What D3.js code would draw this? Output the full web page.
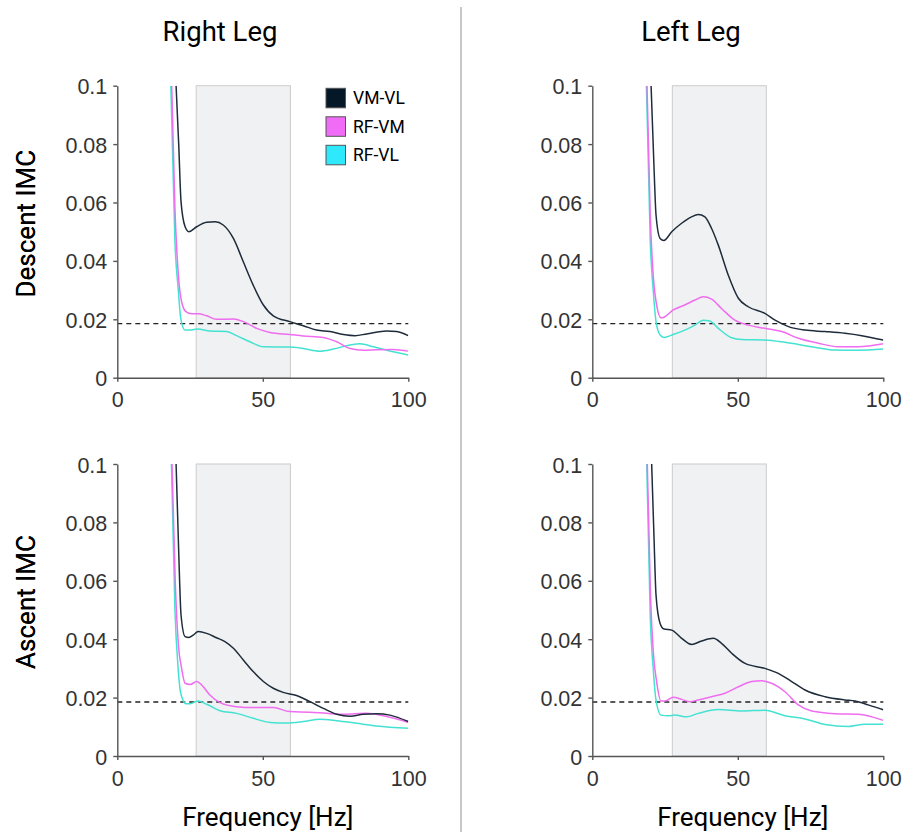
<!DOCTYPE html>
<meta charset="utf-8">
<head>
  <title>IMC by leg</title>
</head>
<script src="https://cdn.jsdelivr.net/npm/d3@7"></script>
<style>
  body { margin: 0; background: white; }
</style>
<div id="chart"></div>
<script>

// ---- data: [frequency Hz, IMC] ----
var seriesNames = ["VM-VL", "RF-VM", "RF-VL"];
var lineColors = ["#1e2b3b", "#f06cf0", "#44e2d2"];
var swatchColors = ["#051828", "#f06cf6", "#2ee9fb"];

var xTicks = [0, 50, 100];
var yTicks = [0, 0.02, 0.04, 0.06, 0.08, 0.1];
var yTickLabels = ["0", "0.02", "0.04", "0.06", "0.08", "0.1"];

var threshold = 0.0185;
var rightBand = [27.1, 59.5];
var leftBand = [27.5, 59.8];

// Right leg, descent
var rdVMVL = [[20.2,0.1],[21.1,0.08],[21.9,0.0603],[23.3,0.0517],[24.6,0.050],[27.3,0.0517],[30.7,0.0532],[33.6,0.0534],[36.4,0.0523],[39.9,0.0477],[43.3,0.0397],[46.7,0.0317],[50.2,0.0249],[53.6,0.0212],[59.3,0.0192],[63.9,0.0178],[68.5,0.0163],[73.1,0.0158],[77.7,0.0148],[81.7,0.0144],[85.7,0.0150],[92.6,0.0160],[96,0.0158],[100,0.0144]];
var rdRFVM = [[18.7,0.1],[19.8,0.058],[21,0.035],[22.1,0.026],[23.6,0.0226],[25.5,0.0219],[27.8,0.0219],[30.7,0.0212],[34.1,0.0200],[39.9,0.0201],[43.3,0.0192],[47.9,0.0169],[52.5,0.0155],[59.3,0.0148],[63.9,0.0143],[70.8,0.0138],[75.4,0.0123],[80,0.0100],[84.5,0.0094],[89.1,0.0096],[94.8,0.0097],[100,0.0091]];
var rdRFVL = [[18.4,0.1],[19.8,0.0466],[21,0.0295],[21.8,0.0203],[23.3,0.0163],[25,0.0163],[27.5,0.0167],[31.8,0.0160],[37.6,0.0158],[41,0.0144],[45.6,0.0123],[50.2,0.0106],[59.3,0.0105],[63.9,0.0100],[69.6,0.0091],[74.2,0.0098],[80,0.0112],[83.4,0.0116],[88,0.0106],[92.6,0.0094],[100,0.0078]];

// Left leg, descent
var ldVMVL = [[20.2,0.1],[21.1,0.075],[21.9,0.0557],[23.3,0.0477],[24.6,0.047],[27.3,0.050],[30.7,0.0529],[34.1,0.0551],[36.4,0.0559],[38.7,0.0551],[41,0.0511],[43.3,0.0454],[46.7,0.0352],[50.2,0.0272],[53.6,0.0243],[59.3,0.0220],[62.8,0.0197],[67.4,0.0175],[73.1,0.0163],[80,0.0158],[86.8,0.0152],[92.6,0.0144],[100,0.0129]];
var ldRFVM = [[18.8,0.1],[19.9,0.056],[21,0.034],[22.1,0.0249],[23.6,0.0205],[24.6,0.0207],[27.8,0.0232],[31.8,0.0249],[35.3,0.0266],[38.1,0.0277],[41,0.0269],[44.4,0.0237],[49,0.0197],[53.6,0.0180],[59.3,0.0169],[65.1,0.0158],[70.8,0.0135],[77.7,0.0118],[84.5,0.0106],[91.4,0.0106],[100,0.0116]];
var ldRFVL = [[18.6,0.1],[19.9,0.047],[21,0.029],[21.9,0.0192],[23.3,0.0146],[24.6,0.0138],[27.8,0.0148],[31.8,0.0163],[35.3,0.0180],[38.1,0.0197],[40.4,0.0194],[43.3,0.0169],[47.9,0.0137],[51.3,0.0131],[59.3,0.0129],[66.2,0.0121],[75.4,0.0106],[83.4,0.0095],[91.4,0.0094],[100,0.0098]];

// Right leg, ascent
var raVMVL = [[20.2,0.1],[21.1,0.07],[21.9,0.0483],[23.3,0.0409],[24.6,0.0406],[26.1,0.0414],[27.8,0.0426],[30.7,0.0420],[34.1,0.0405],[37,0.0392],[39.9,0.0369],[43.3,0.0329],[46.7,0.0289],[50.2,0.0255],[53.6,0.0232],[57,0.0218],[61.6,0.0207],[66.2,0.0186],[70.8,0.0163],[75.4,0.0143],[80,0.0136],[84.5,0.0143],[89.1,0.0145],[93.7,0.0140],[100,0.0118]];
var raRFVM = [[18.8,0.1],[19.9,0.06],[21,0.038],[22.1,0.030],[23.3,0.0249],[25,0.0245],[27.3,0.0255],[29,0.0243],[31.8,0.0209],[35.3,0.0183],[41,0.0169],[46.7,0.0166],[53.6,0.0166],[59.3,0.0152],[66.2,0.0150],[71.9,0.0146],[77.7,0.0143],[85.7,0.0146],[92.6,0.0135],[100,0.0115]];
var raRFVL = [[18.6,0.1],[19.8,0.05],[20.9,0.03],[21.8,0.0215],[23.6,0.0179],[25,0.0179],[27.8,0.0188],[30.7,0.0177],[35.3,0.0155],[41,0.0146],[46.7,0.0129],[52.5,0.0115],[58.2,0.0113],[63.9,0.0118],[69.6,0.0126],[75.4,0.0121],[82.2,0.0112],[89.1,0.0103],[100,0.0095]];

// Left leg, ascent
var laVMVL = [[20.4,0.1],[21.2,0.075],[21.9,0.0551],[23.3,0.0454],[24.6,0.0435],[27.3,0.0431],[30.7,0.0403],[34.1,0.0382],[37.6,0.0394],[41.6,0.0403],[44.4,0.0386],[47.9,0.0352],[52.5,0.0317],[59.3,0.0300],[63.9,0.0283],[68.5,0.0255],[73.1,0.0226],[80,0.0203],[86.8,0.0192],[90.3,0.0188],[94.8,0.0175],[100,0.0158]];
var laRFVM = [[18.9,0.1],[20,0.055],[21,0.035],[22.1,0.0255],[23.6,0.0188],[25,0.0188],[27.8,0.0201],[30.7,0.0194],[33.6,0.0186],[36.4,0.0192],[41,0.0203],[45.6,0.0215],[50.2,0.0237],[54.8,0.0255],[58.2,0.0258],[61.6,0.0249],[66.2,0.0220],[70.8,0.0175],[75.4,0.0154],[83.4,0.0145],[91.4,0.0143],[100,0.0122]];
var laRFVL = [[18.7,0.1],[19.9,0.048],[21,0.029],[21.8,0.0198],[23.6,0.0140],[26.1,0.0138],[28.4,0.0140],[32.4,0.0134],[36.4,0.0146],[43.3,0.0159],[51.3,0.0154],[59.3,0.0157],[66.2,0.0138],[73.1,0.0127],[80,0.0108],[88,0.0101],[93.7,0.0109],[100,0.0109]];

// ---- layout ----
var W = 917, H = 838;
var pw = 291, ph = 292;

var panels = [
  {x0: 117.3, y0: 85.7, band: rightBand, lines: [rdVMVL, rdRFVM, rdRFVL], ylab: "Descent IMC", legend: true},
  {x0: 592.3, y0: 85.7, band: leftBand, lines: [ldVMVL, ldRFVM, ldRFVL], ylab: "Descent IMC"},
  {x0: 117.3, y0: 464, band: rightBand, lines: [raVMVL, raRFVM, raRFVL], ylab: "Ascent IMC", xlab: true},
  {x0: 592.3, y0: 464, band: leftBand, lines: [laVMVL, laRFVM, laRFVL], ylab: "Ascent IMC", xlab: true}
];

var svg = d3.select("#chart").append("svg")
  .attr("width", W)
  .attr("height", H);

// column titles
svg.append("text").attr("x", 220).attr("y", 41).attr("text-anchor", "middle")
  .style("font-family", "Roboto").style("font-size", "27.5px").text("Right Leg");
svg.append("text").attr("x", 691).attr("y", 41).attr("text-anchor", "middle")
  .style("font-family", "Roboto").style("font-size", "27.5px").text("Left Leg");

// separator
svg.append("line").attr("x1", 461).attr("x2", 461).attr("y1", 7).attr("y2", 832)
  .attr("stroke", "#aaa").attr("stroke-width", 1.3);

var x = d3.scaleLinear().domain([0, 100]).range([0, pw]);
var y = d3.scaleLinear().domain([0, 0.1]).range([ph, 0]);

var line = d3.line()
  .x(function(d) { return x(d[0]); })
  .y(function(d) { return y(d[1]); })
  .curve(d3.curveMonotoneX);

function styleAxis(ax) {
  ax.selectAll(".domain, .tick line").attr("stroke", "#555").attr("stroke-width", 1.4);
  ax.selectAll(".tick text")
    .attr("fill", "#333")
    .style("font-family", "'Liberation Sans', Arial, sans-serif")
    .style("font-size", "21.5px")
    .style("font-weight", "normal");
}

panels.forEach(function(p, i) {
  var g = svg.append("g").attr("transform", "translate(" + p.x0 + "," + p.y0 + ")");

  g.append("clipPath").attr("id", "clip" + i)
    .append("rect").attr("width", pw).attr("height", ph);

  // shaded frequency band
  g.append("rect")
    .attr("x", x(p.band[0]))
    .attr("y", y(0.1))
    .attr("width", x(p.band[1]) - x(p.band[0]))
    .attr("height", y(0) - y(0.1))
    .attr("fill", "#f0f1f3")
    .attr("stroke", "#cccccc")
    .attr("stroke-width", 1);

  // significance threshold
  g.append("line")
    .attr("x1", 0).attr("x2", x(100))
    .attr("y1", y(threshold)).attr("y2", y(threshold))
    .attr("stroke", "#222").attr("stroke-width", 1.3)
    .attr("stroke-dasharray", "5,4");

  var lg = g.append("g").attr("clip-path", "url(#clip" + i + ")");
  // draw cyan first, dark last
  [2, 1, 0].forEach(function(k) {
    lg.append("path")
      .datum(p.lines[k])
      .attr("d", line)
      .attr("fill", "none")
      .attr("stroke", lineColors[k])
      .attr("stroke-width", 1.5);
  });

  var xa = g.append("g")
    .attr("transform", "translate(0," + ph + ")")
    .call(d3.axisBottom(x).tickValues(xTicks).tickSize(4).tickSizeOuter(0));
  styleAxis(xa);
  xa.selectAll(".tick text").attr("y", 29.6).attr("dy", 0);

  var ya = g.append("g")
    .call(d3.axisLeft(y).tickValues(yTicks).tickSize(4).tickSizeOuter(0)
      .tickFormat(function(d, j) { return yTickLabels[j]; }));
  styleAxis(ya);
  ya.selectAll(".tick text").attr("x", -10).attr("y", 8).attr("dy", 0);

  // y label
  g.append("text")
    .attr("transform", "translate(" + (35 - p.x0) + "," + (ph / 2 - 8) + ") rotate(-90)")
    .attr("text-anchor", "middle")
    .style("font-family", "Roboto").style("font-size", "26px")
    .text(p.ylab);

  if (p.xlab) {
    g.append("text")
      .attr("x", pw / 2 + 5)
      .attr("y", 826 - p.y0)
      .attr("text-anchor", "middle")
      .style("font-family", "Roboto").style("font-size", "26px")
      .text("Frequency [Hz]");
  }

  if (p.legend) {
    var leg = g.append("g").attr("transform", "translate(" + (326 - p.x0) + "," + (88.3 - p.y0) + ")");
    seriesNames.forEach(function(name, k) {
      leg.append("rect")
        .attr("x", 0).attr("y", k * 28.5)
        .attr("width", 19.5).attr("height", 19.5)
        .attr("fill", swatchColors[k])
        .attr("stroke", "#555").attr("stroke-width", 1);
      leg.append("text")
        .attr("x", 27).attr("y", k * 28.5 + 16)
        .style("font-family", "Roboto").style("font-size", "17.5px")
        .text(name);
    });
  }
});

</script>
